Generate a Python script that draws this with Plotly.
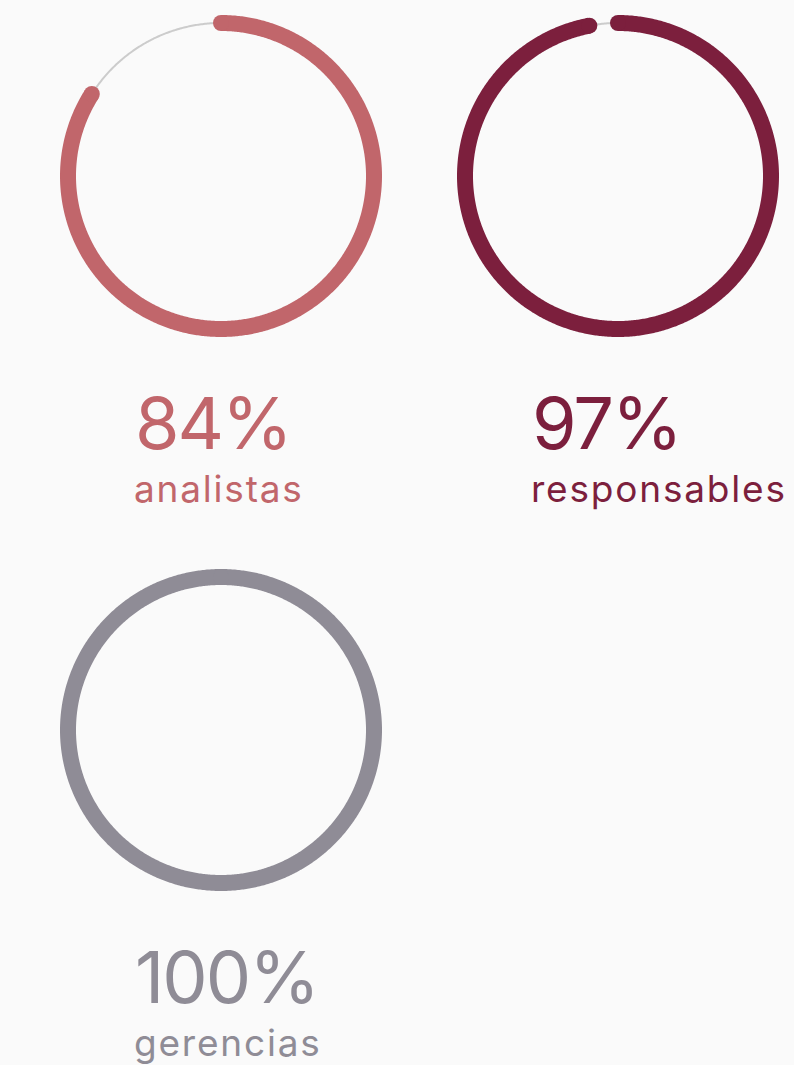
import numpy as np
import plotly.graph_objects as go

# ---- data ----
labels = ["analistas", "responsables", "gerencias"]
values = [84, 97, 100]
colors = ["#c1666b", "#7c1f3d", "#8f8c96"]
track_color = "#cccccc"
bg = "#fafafa"

W, H = 794, 1065
centers = [(221, 176), (618, 176), (221, 730)]  # pixel centres of each ring
R_DOM = 175          # half-size of each polar domain, px
R_RING = 153         # ring centreline radius, px
STROKE = 16

fig = go.Figure()
layout_polars = {}
annotations = []

for i, (lab, val, col, (cx, cy)) in enumerate(zip(labels, values, colors, centers)):
    pname = "polar" if i == 0 else f"polar{i+1}"
    sub = pname
    r = R_RING / R_DOM
    end = val / 100 * 360
    # track
    th_full = np.linspace(0, 360, 721)
    fig.add_trace(go.Scatterpolar(r=[r] * len(th_full), theta=th_full, mode="lines",
                                  line=dict(color=track_color, width=2), subplot=sub,
                                  hoverinfo="skip", showlegend=False, cliponaxis=False))
    # value arc
    th = np.linspace(0, end, max(2, int(end * 2) + 1))
    fig.add_trace(go.Scatterpolar(r=[r] * len(th), theta=th, mode="lines",
                                  line=dict(color=col, width=STROKE), subplot=sub,
                                  hoverinfo="skip", showlegend=False, cliponaxis=False))
    # round caps
    fig.add_trace(go.Scatterpolar(r=[r, r], theta=[0, end], mode="markers",
                                  marker=dict(color=col, size=STROKE, line=dict(width=0)),
                                  subplot=sub, hoverinfo="skip", showlegend=False,
                                  cliponaxis=False))
    layout_polars[pname] = dict(
        domain=dict(x=[(cx - R_DOM) / W, (cx + R_DOM) / W],
                    y=[1 - (cy + R_DOM) / H, 1 - (cy - R_DOM) / H]),
        bgcolor="rgba(0,0,0,0)",
        radialaxis=dict(range=[0, 1], visible=False, showgrid=False, showline=False,
                        showticklabels=False, ticks=""),
        angularaxis=dict(rotation=90, direction="clockwise", visible=False,
                         showgrid=False, showline=False, showticklabels=False, ticks=""),
    )
    # texts
    num_base = cy + 275
    lab_base = cy + 328
    annotations.append(dict(text=f"<span style='letter-spacing:-2px'>{val}%</span>",
                            x=(cx - 88) / W, xref="paper", xanchor="left",
                            y=1 - (num_base + 17) / H, yref="paper", yanchor="bottom",
                            showarrow=False, font=dict(family="Inter", size=72, color=col)))
    annotations.append(dict(text=f"<span style='letter-spacing:1.8px'>{lab}</span>",
                            x=(cx - 89) / W, xref="paper", xanchor="left",
                            y=1 - (lab_base + 9) / H, yref="paper", yanchor="bottom",
                            showarrow=False, font=dict(family="Inter", size=37, color=col)))

fig.update_layout(width=W, height=H, margin=dict(l=0, r=0, t=0, b=0),
                  paper_bgcolor=bg, plot_bgcolor=bg, showlegend=False,
                  annotations=annotations, **layout_polars)

fig.write_html("out.html", config={"displayModeBar": False},
               post_script="document.body.style.margin='0';"
                           "document.body.style.background='#fafafa';")
